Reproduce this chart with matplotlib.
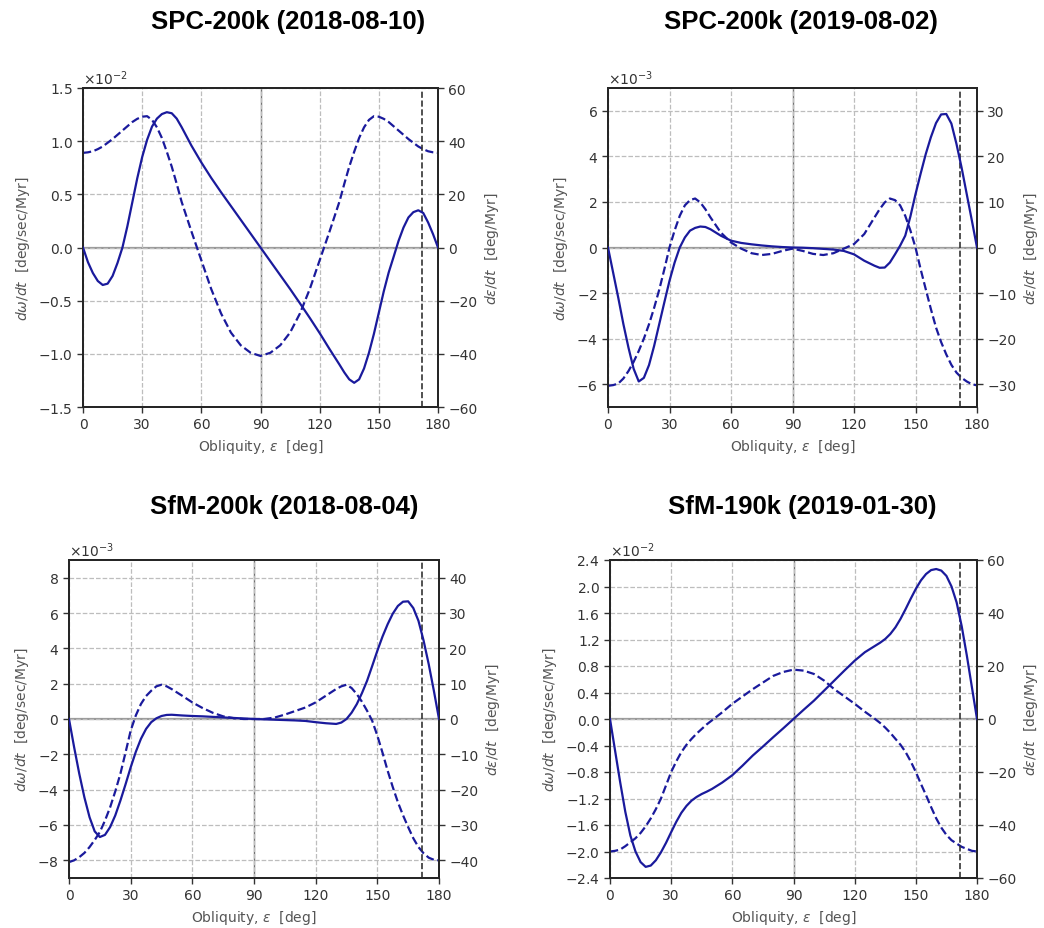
import numpy as np
import matplotlib
matplotlib.use("Agg")
import matplotlib.pyplot as plt

# Obliquity samples (deg): finer near the ends where the curves bend sharply
eps = [0, 2.5, 5, 7.5, 10, 12.5, 15, 17.5, 20, 22.5, 25, 27.5, 30, 32.5, 35, 37.5, 40, 42.5, 45, 47.5, 50,
       55, 60, 65, 70, 75, 80, 85, 90, 95, 100, 105, 110, 115, 120, 125,
       130, 132.5, 135, 137.5, 140, 142.5, 145, 147.5, 150, 152.5, 155, 157.5, 160, 162.5, 165,
       167.5, 170, 172.5, 175, 177.5, 180]
eps_ryugu = 171.64

titles = ["SPC-200k (2018-08-10)", "SPC-200k (2019-08-02)",
          "SfM-200k (2018-08-04)", "SfM-190k (2019-01-30)"]

# dω/dt (deg/sec/Myr, in units of the axis multiplier), dashed, left axis
domega_spc_2018 = [0.89, 0.895, 0.905, 0.925, 0.95, 0.985, 1.02, 1.06, 1.10, 1.14, 1.18, 1.21, 1.23,
                   1.235, 1.20, 1.13, 1.03, 0.90, 0.76, 0.60, 0.43,
                   0.15, -0.12, -0.39, -0.62, -0.80, -0.92, -0.99, -1.02, -0.99, -0.92, -0.80, -0.62,
                   -0.39, -0.12, 0.15,
                   0.43, 0.60, 0.76, 0.90, 1.03, 1.13, 1.20, 1.235, 1.23, 1.21, 1.18, 1.14, 1.10,
                   1.06, 1.02, 0.985, 0.95, 0.925, 0.905, 0.895, 0.89]
domega_spc_2019 = [-6.07, -6.04, -5.97, -5.75, -5.42, -5.02, -4.54, -4.0, -3.37, -2.65, -1.85, -0.95,
                   0.0, 0.75, 1.39, 1.85, 2.08, 2.15, 1.98, 1.68, 1.32,
                   0.66, 0.22, -0.05, -0.25, -0.33, -0.28, -0.15, -0.05, -0.15, -0.28, -0.33, -0.25,
                   -0.05, 0.15, 0.59,
                   1.32, 1.68, 1.98, 2.15, 2.08, 1.85, 1.39, 0.75, 0.0, -0.95, -1.83, -2.7, -3.51,
                   -4.15, -4.69, -5.15, -5.49, -5.72, -5.88, -6.0, -6.05]
domega_sfm_200k = [-8.1, -8.0, -7.82, -7.58, -7.25, -6.85, -6.4, -5.75, -5.0, -4.1, -3.1, -1.9,
                   -0.66, 0.2, 0.85, 1.3, 1.6, 1.85, 1.94, 1.85, 1.69,
                   1.32, 0.94, 0.62, 0.35, 0.15, 0.05, 0.0, 0.0, 0.0, 0.08, 0.25, 0.45,
                   0.65, 0.94, 1.32,
                   1.7, 1.85, 1.94, 1.75, 1.41, 0.98, 0.47, -0.1, -0.94, -1.9, -2.92, -3.85, -4.71,
                   -5.45, -6.12, -6.75, -7.25, -7.6, -7.85, -7.97, -8.0]
domega_sfm_190k = [-2.0, -1.99, -1.97, -1.92, -1.86, -1.8, -1.72, -1.62, -1.5, -1.36, -1.2, -1.0,
                   -0.80, -0.64, -0.5, -0.39, -0.3, -0.22, -0.15, -0.08, -0.02,
                   0.1, 0.23, 0.34, 0.45, 0.55, 0.65, 0.71, 0.745, 0.73, 0.68, 0.58, 0.45,
                   0.34, 0.23, 0.11,
                   0.0, -0.06, -0.13, -0.21, -0.3, -0.39, -0.5, -0.64, -0.8, -0.98, -1.15, -1.33, -1.5,
                   -1.64, -1.75, -1.83, -1.88, -1.93, -1.96, -1.99, -2.0]
domega_scale = [1e-2, 1e-3, 1e-3, 1e-2]

# dε/dt (deg/Myr), solid, right axis
deps_spc_2018 = [0, -5.5, -9.6, -12.6, -14.1, -13.6, -10.7, -5.8, 0, 8, 17, 26, 34, 40.5, 45.5, 48.5,
                 50.2, 50.9, 50.5, 48.5, 45.3,
                 38.3, 32.0, 26.2, 20.8, 15.6, 10.4, 5.2, 0, -5.2, -10.4, -15.6, -21, -26.5, -32.2, -38.2,
                 -44, -47, -49.6, -50.9, -49.6, -45.5, -39.6, -32.5, -24.5, -16.5, -9.4, -3.5, 2.5,
                 7.5, 11.3, 13.3, 14.0, 13.0, 9.4, 5.0, 0]
deps_spc_2019 = [0, -5.5, -11, -16.8, -22, -26.6, -29.4, -28.6, -25.8, -21.6, -16.8, -12, -7.3, -3.3,
                 0, 2.2, 3.7, 4.3, 4.6, 4.5, 4.0,
                 2.6, 1.5, 1.0, 0.7, 0.45, 0.25, 0.1, 0, -0.05, -0.15, -0.3, -0.45, -0.75, -1.5, -2.9,
                 -4.0, -4.45, -4.4, -3.3, -1.5, 0.4, 2.6, 6.8, 11.7, 16.2, 20.5, 24.2, 27.3,
                 29.2, 29.3, 27.2, 22.7, 17.5, 11.7, 5.9, 0]
deps_sfm_200k = [0, -8, -15.5, -22.2, -27.8, -31.8, -33.4, -32.8, -30.6, -27.3, -23.1, -18.5, -13.7,
                 -9.3, -5.6, -2.8, -0.9, 0.2, 0.85, 1.15, 1.2,
                 1.0, 0.85, 0.75, 0.6, 0.45, 0.3, 0.15, 0, -0.1, -0.2, -0.3, -0.4, -0.55, -0.9, -1.2,
                 -1.4, -1.0, 0.0, 1.8, 4.2, 7.3, 10.8, 15.0, 19.3, 23.3, 26.8, 29.8, 32.0,
                 33.2, 33.3, 31.4, 27.8, 22.2, 15.5, 8, 0]
deps_sfm_190k = [0, -12, -23.9, -35, -44, -50, -54, -55.8, -55.3, -53.3, -50.3, -46.7, -42.7, -38.8,
                 -35.4, -32.8, -30.8, -29.4, -28.3, -27.4, -26.4,
                 -24.0, -21.2, -17.6, -13.8, -10.4, -6.9, -3.5, 0, 3.5, 6.9, 10.7, 14.5, 18.3, 22, 25.2,
                 27.6, 28.8, 30.2, 32.1, 34.6, 37.8, 41.5, 45.4, 49.1, 52.3, 54.7, 56.2, 56.6,
                 56.0, 54, 50, 44, 35, 24, 12, 0]

domega_all = [domega_spc_2018, domega_spc_2019, domega_sfm_200k, domega_sfm_190k]
deps_all = [deps_spc_2018, deps_spc_2019, deps_sfm_200k, deps_sfm_190k]

# axis ranges / ticks
left_lims = [(-1.5, 1.5), (-7, 7), (-9, 9), (-2.4, 2.4)]
left_ticks = [np.arange(-1.5, 1.51, 0.5), np.arange(-6, 6.1, 2), np.arange(-8, 8.1, 2),
              np.arange(-2.4, 2.41, 0.4)]
right_lims = [(-60, 60), (-35, 35), (-45, 45), (-60, 60)]
right_ticks = [np.arange(-60, 61, 20), np.arange(-30, 31, 10), np.arange(-40, 41, 10),
               np.arange(-60, 61, 20)]

# layout (figure pixels)
W, H = 1044, 929
boxes = [(83, 89, 438, 408), (608, 89, 977, 408), (69, 561, 439, 879), (610, 561, 977, 879)]
title_pos = [(288, 22), (801, 22), (284, 507), (802, 507)]

line_color = '#1a1a9c'
tick_color = '#333333'
label_color = '#555555'

fig = plt.figure(figsize=(W / 100, H / 100), dpi=100)
for i in range(4):
    x0, y0, x1, y1 = boxes[i]
    ax = fig.add_axes([x0 / W, 1 - y1 / H, (x1 - x0) / W, (y1 - y0) / H])
    ax2 = ax.twinx()
    sc = domega_scale[i]
    ax.set_xlim(0, 180)
    ax.set_xticks(range(0, 181, 30))
    ax.set_ylim(left_lims[i][0] * sc, left_lims[i][1] * sc)
    ax.set_yticks(left_ticks[i] * sc)
    ax.ticklabel_format(style='sci', axis='y', scilimits=(0, 0), useMathText=True)
    ax2.set_ylim(*right_lims[i])
    ax2.set_yticks(right_ticks[i])
    ax.grid(True, linestyle='--', color='0.74', linewidth=0.9)
    ax.axhline(0, color='0.6', linewidth=1.6, zorder=1)
    ax.axvline(90, color='0.45', linewidth=1.0, zorder=1)
    ax.plot(eps, np.array(domega_all[i]) * sc, '--', color=line_color, linewidth=1.6, zorder=3)
    ax2.plot(eps, deps_all[i], '-', color=line_color, linewidth=1.6, zorder=3)
    ax2.axvline(eps_ryugu, color='0.2', linestyle='--', linewidth=1.2)
    ax.set_xlabel(r'Obliquity, $\varepsilon$  [deg]', fontsize=10, color=label_color)
    ax.set_ylabel(r'$d\omega/dt$  [deg/sec/Myr]', fontsize=10, color=label_color)
    ax2.set_ylabel(r'$d\varepsilon/dt$  [deg/Myr]', fontsize=10, color=label_color)
    for a in (ax, ax2):
        a.tick_params(labelsize=10, colors=tick_color, width=1.0, length=4)
        for s in a.spines.values():
            s.set_color('0.15')
            s.set_linewidth(1.4)
    ax.yaxis.get_offset_text().set_fontsize(10)
    ax.yaxis.get_offset_text().set_color(tick_color)
    tx, ty = title_pos[i]
    fig.text(tx / W, 1 - ty / H, titles[i], ha='center', va='center', fontsize=18.5,
             fontweight='bold', family=['Liberation Sans', 'DejaVu Sans'])

fig.savefig('out.png', dpi=100)
